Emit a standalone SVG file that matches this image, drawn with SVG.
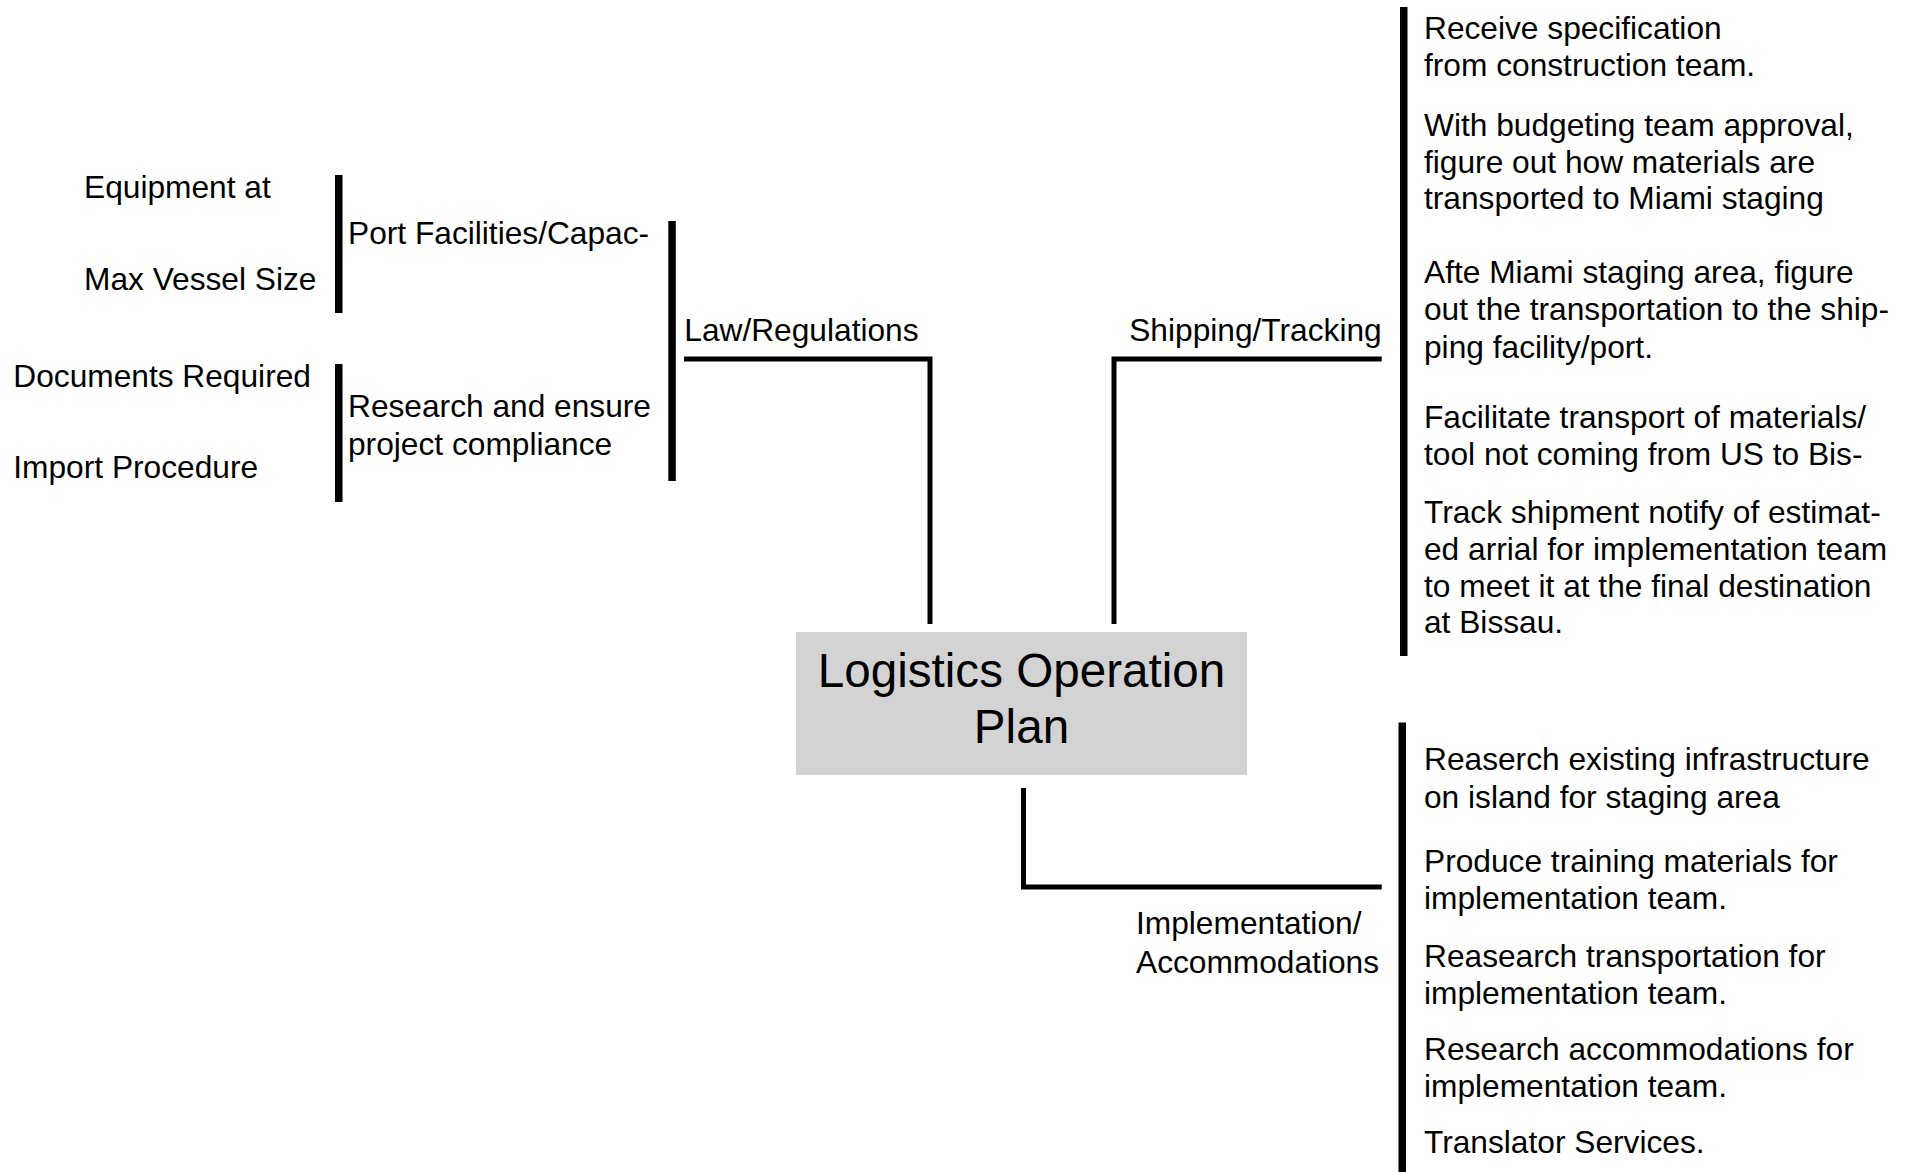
<svg xmlns="http://www.w3.org/2000/svg" width="1914" height="1172" viewBox="0 0 1914 1172">
<style>
  text { font-family: "Liberation Sans", Arial, sans-serif; fill: #000; }
  .t { font-size: 31.7px; }
  .title { font-size: 47.6px; text-anchor: middle; }
  .end { text-anchor: end; }
  .bar { fill: #000; }
  .conn { fill: none; stroke: #000; stroke-width: 5; stroke-linejoin: miter; stroke-linecap: butt; }
  .box { fill: #d3d3d3; }
</style>
<rect width="1914" height="1172" fill="#fff"/>

<g id="connectors">
  <path class="conn" d="M684,359 H930 V624"/>
  <path class="conn" d="M1381.7,359 H1114 V624"/>
  <path class="conn" d="M1023.5,788 V887 H1381.7"/>
  <rect class="bar" x="668.3" y="221" width="7.5" height="260"/>
  <rect class="bar" x="335" y="175" width="7.5" height="138"/>
  <rect class="bar" x="335" y="364" width="7.5" height="138"/>
  <rect class="bar" x="1400" y="7" width="7.5" height="649"/>
  <rect class="bar" x="1398.5" y="722.5" width="7.5" height="460"/>
</g>

<g id="node-center">
  <rect class="box" x="796" y="632" width="451" height="143"/>
  <text class="title" x="1021.5" y="686.7">Logistics Operation</text>
  <text class="title" x="1021.5" y="743.3">Plan</text>
</g>

<g id="node-law">
  <text class="t" x="684.3" y="341">Law/Regulations</text>
</g>
<g id="node-port">
  <text class="t" x="348" y="244">Port Facilities/Capac-</text>
</g>
<g id="node-equipment">
  <text class="t" x="84" y="197.7">Equipment at</text>
</g>
<g id="node-maxvessel">
  <text class="t" x="84" y="289.5">Max Vessel Size</text>
</g>
<g id="node-research">
  <text class="t" x="348" y="417.3">Research and ensure</text>
  <text class="t" x="348" y="454.5">project compliance</text>
</g>
<g id="node-documents">
  <text class="t" x="13.3" y="386.7">Documents Required</text>
</g>
<g id="node-import">
  <text class="t" x="13.3" y="478.3">Import Procedure</text>
</g>

<g id="node-shipping">
  <text class="t end" x="1381.7" y="340.5">Shipping/Tracking</text>
</g>
<g id="node-ship-1">
  <text class="t" x="1424" y="39.3">Receive specification</text>
  <text class="t" x="1424" y="76.3">from construction team.</text>
</g>
<g id="node-ship-2">
  <text class="t" x="1424" y="136">With budgeting team approval,</text>
  <text class="t" x="1424" y="172.7">figure out how materials are</text>
  <text class="t" x="1424" y="209">transported to Miami staging</text>
</g>
<g id="node-ship-3">
  <text class="t" x="1424" y="282.5">Afte Miami staging area, figure</text>
  <text class="t" x="1424" y="319.7">out the transportation to the ship-</text>
  <text class="t" x="1424" y="357.5">ping facility/port.</text>
</g>
<g id="node-ship-4">
  <text class="t" x="1424" y="428.3">Facilitate transport of materials/</text>
  <text class="t" x="1424" y="465">tool not coming from US to Bis-</text>
</g>
<g id="node-ship-5">
  <text class="t" x="1424" y="523.3">Track shipment notify of estimat-</text>
  <text class="t" x="1424" y="560">ed arrial for implementation team</text>
  <text class="t" x="1424" y="596.7">to meet it at the final destination</text>
  <text class="t" x="1424" y="633.3">at Bissau.</text>
</g>

<g id="node-impl">
  <text class="t" x="1136" y="934">Implementation/</text>
  <text class="t" x="1136" y="973">Accommodations</text>
</g>
<g id="node-impl-1">
  <text class="t" x="1424" y="770">Reaserch existing infrastructure</text>
  <text class="t" x="1424" y="808.3">on island for staging area</text>
</g>
<g id="node-impl-2">
  <text class="t" x="1424" y="871.7">Produce training materials for</text>
  <text class="t" x="1424" y="909.3">implementation team.</text>
</g>
<g id="node-impl-3">
  <text class="t" x="1424" y="966.7">Reasearch transportation for</text>
  <text class="t" x="1424" y="1004">implementation team.</text>
</g>
<g id="node-impl-4">
  <text class="t" x="1424" y="1060">Research accommodations for</text>
  <text class="t" x="1424" y="1097.3">implementation team.</text>
</g>
<g id="node-impl-5">
  <text class="t" x="1424" y="1153.3">Translator Services.</text>
</g>
</svg>
